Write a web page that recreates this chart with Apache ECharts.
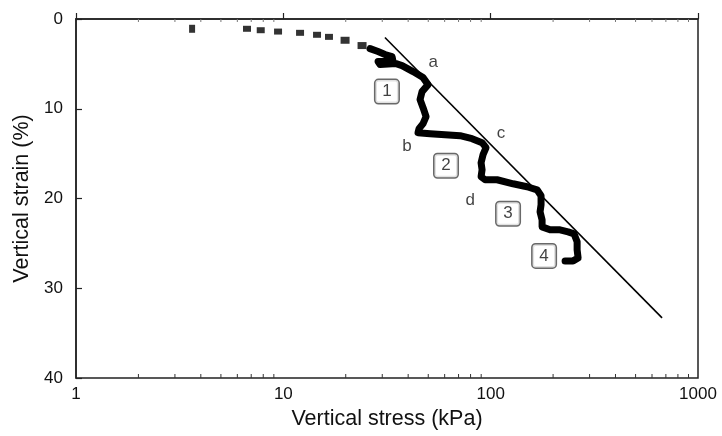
<!DOCTYPE html>
<html><head><meta charset="utf-8">
<script src="https://cdn.jsdelivr.net/npm/echarts@6/dist/echarts.min.js"></script>
<style>html,body{margin:0;padding:0;background:#fff}#c{width:722px;height:436px}</style>
</head><body><div id="c"></div>
<script>
// Loose (dashed) early readings
const looseStress = [3.63, 6.68, 7.78, 9.43, 12.04, 14.54, 16.6, 19.85, 23.97];
const looseStrain = [1.09, 1.09, 1.25, 1.4, 1.54, 1.76, 1.99, 2.37, 2.96];
// Continuous thick curve
const curveStress = [26.2,28.63,30.94,33.45,33.82,28.63,29.28,34.98,37.37,42.24,47.2,49.9,46.67,45.64,47.2,48.8,47.2,45.14,44.64,51.03,60.26,71.18,81.35,90.9,95.0,91.9,89.9,90.9,89.9,94.0,107.4,128.3,149.8,167.4,175.0,175.0,173.1,177.0,177.0,193.4,216.1,236.3,252.6,261.2,261.2,264.1,249.7,228.5];
const curveStrain = [3.3,3.63,3.96,4.19,4.74,4.74,5.08,4.97,5.19,5.86,6.53,7.31,8.09,8.98,9.88,10.88,11.66,12.22,12.67,12.78,12.89,13.0,13.34,13.78,14.34,15.12,16.02,16.8,17.58,17.91,17.91,18.36,18.69,19.03,19.7,20.7,21.48,22.38,23.16,23.49,23.49,23.72,23.94,24.83,25.72,26.62,26.95,26.95];
// Straight reference line
const lineStress = [30.9, 671];
const lineStrain = [2.06, 33.3];
// Letter annotations
const letterText = ['a','b','c','d'];
const letterStress = [52.8, 39.5, 112.2, 79.6];
const letterStrain = [4.85, 14.23, 12.78, 20.15];
// Boxed stage numbers
const boxText = ['1','2','3','4'];
const boxStress = [31.6, 60.9, 121.3, 181];
const boxStrain = [8.09, 16.35, 21.7, 26.4];
// Axis ticks
const xTickLabels = [1, 10, 100, 1000];
const minorTicks = [2,3,4,5,6,7,8,9,20,30,40,50,60,70,80,90,200,300,400,500,600,700,800,900];

const FONT = 'Liberation Sans, Arial, sans-serif';
const zip = (a,b) => a.map((v,i)=>[v,b[i]]);
const chart = echarts.init(document.getElementById('c'), null, {renderer:'canvas'});
chart.setOption({
  animation:false,
  backgroundColor:'#fff',
  grid:{left:76, right:24, top:19, bottom:58, show:true, borderColor:'#222', borderWidth:1.5},
  xAxis:{type:'log', logBase:10, min:1, max:1000,
    axisLine:{show:true, lineStyle:{color:'#222', width:1.5}},
    axisTick:{show:true, inside:true, length:6, lineStyle:{color:'#222', width:1.2}},
    splitLine:{show:false},
    axisLabel:{color:'#111', fontFamily:FONT, fontSize:17, margin:8,
      formatter:(v)=> xTickLabels.includes(Math.round(v)) ? String(Math.round(v)) : ''},
    name:'Vertical stress (kPa)', nameLocation:'middle', nameGap:27,
    nameTextStyle:{color:'#111', fontFamily:FONT, fontSize:21.5}},
  yAxis:{type:'value', inverse:true, min:0, max:40, interval:10,
    axisLine:{show:true, lineStyle:{color:'#222', width:1.5}},
    axisTick:{show:true, inside:true, length:6, lineStyle:{color:'#222', width:1.2}},
    splitLine:{show:false},
    axisLabel:{color:'#111', fontFamily:FONT, fontSize:17, margin:13},
    name:'Vertical strain (%)', nameLocation:'middle', nameGap:39,
    nameTextStyle:{color:'#111', fontFamily:FONT, fontSize:21.5}},
  series:[
    {type:'custom', silent:true, clip:false,
      data: minorTicks.map(v=>[v]),
      renderItem:(params, api)=>{
        const v = api.value(0);
        const b = api.coord([v, 40]);
        const t = api.coord([v, 0]);
        return {type:'group', children:[
          {type:'line', shape:{x1:b[0], y1:b[1], x2:b[0], y2:b[1]-4}, style:{stroke:'#333', lineWidth:1}},
          {type:'line', shape:{x1:t[0], y1:t[1], x2:t[0], y2:t[1]+3}, style:{stroke:'#777', lineWidth:1}}
        ]};
      }},
    {type:'line', data: zip(lineStress, lineStrain), showSymbol:false, symbol:'none',
      lineStyle:{color:'#000', width:1.6}},
    {type:'scatter', data: zip(looseStress, looseStrain), symbol:'rect',
      symbolSize:(val, p)=> p.dataIndex===0 ? [6,8] : (p.dataIndex>=7 ? [9,7] : [8,6]),
      itemStyle:{color:'#000'}},
    {type:'line', data: zip(curveStress, curveStrain), symbol:'none',
      lineStyle:{color:'#000', width:7, join:'round', cap:'round'}},
    {type:'scatter', data: letterText.map((t,i)=>[letterStress[i], letterStrain[i], t]),
      symbolSize:0,
      label:{show:true, position:'inside', formatter:(p)=>p.data[2], color:'#111', fontFamily:FONT, fontSize:17}},
    {type:'scatter', data: boxText.map((t,i)=>[boxStress[i], boxStrain[i], t]),
      symbolSize:0,
      label:{show:true, position:'inside', formatter:(p)=>p.data[2], color:'#111', fontFamily:FONT, fontSize:17,
        backgroundColor:'#fff', borderColor:'#444', borderWidth:1.5, borderRadius:3,
        width:15, height:17, align:'center', lineHeight:17, padding:[3,4,3,4]}}
  ]
});
</script></body></html>
